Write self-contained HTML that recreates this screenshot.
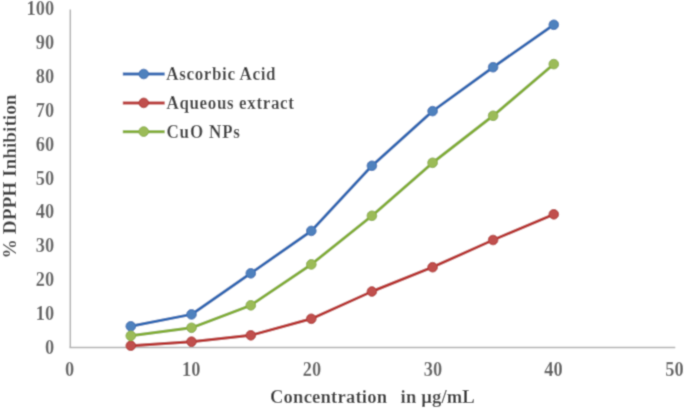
<!DOCTYPE html>
<html><head><meta charset="utf-8">
<style>
html,body{margin:0;padding:0;background:#fff;width:685px;height:409px;overflow:hidden;}
svg{display:block;}
text{font-family:"Liberation Serif",serif;font-weight:bold;fill:#404040;}
.tk text{fill:#626262;}
</style></head>
<body>
<svg width="685" height="409" viewBox="0 0 685 409">
<defs><filter id="bl" x="0" y="0" width="685" height="409" filterUnits="userSpaceOnUse"><feConvolveMatrix order="3" kernelMatrix="0.0324 0.1152 0.0324 0.1152 0.4096 0.1152 0.0324 0.1152 0.0324" edgeMode="duplicate"/></filter></defs>
<g filter="url(#bl)">
<rect width="685" height="409" fill="#fff"/>
<!-- axes -->
<line x1="70.3" y1="9.4" x2="70.3" y2="347.5" stroke="#b0b0b0" stroke-width="1.5"/>
<line x1="69.5" y1="347.5" x2="675.3" y2="347.5" stroke="#b0b0b0" stroke-width="1.5"/>
<!-- y tick labels -->
<g class="tk" font-size="20" text-anchor="end">
<text transform="translate(54.2,15) scale(0.92,1)">100</text>
<text transform="translate(54.2,49) scale(0.92,1)">90</text>
<text transform="translate(54.2,83) scale(0.92,1)">80</text>
<text transform="translate(54.2,116.5) scale(0.92,1)">70</text>
<text transform="translate(54.2,150.5) scale(0.92,1)">60</text>
<text transform="translate(54.2,184.5) scale(0.92,1)">50</text>
<text transform="translate(54.2,218) scale(0.92,1)">40</text>
<text transform="translate(54.2,252) scale(0.92,1)">30</text>
<text transform="translate(54.2,286) scale(0.92,1)">20</text>
<text transform="translate(54.2,319.5) scale(0.92,1)">10</text>
<text transform="translate(54.2,353.5) scale(0.92,1)">0</text>
</g>
<!-- x tick labels -->
<g class="tk" font-size="20" text-anchor="middle">
<text transform="translate(69.7,375.7) scale(0.92,1)">0</text>
<text transform="translate(191.3,375.7) scale(0.92,1)">10</text>
<text transform="translate(311.9,375.7) scale(0.92,1)">20</text>
<text transform="translate(432.9,375.7) scale(0.92,1)">30</text>
<text transform="translate(553.4,375.7) scale(0.92,1)">40</text>
<text transform="translate(674.4,375.7) scale(0.92,1)">50</text>
</g>
<!-- axis titles -->
<text transform="translate(270,402.5) scale(0.94,1)" font-size="19.8" textLength="124.5" lengthAdjust="spacing">Concentration</text>
<text transform="translate(400.6,402.5) scale(0.94,1)" font-size="19.8" textLength="78.9" lengthAdjust="spacing">in µg/mL</text>
<text transform="translate(15.9,258.4) rotate(-90)" font-size="19.3">% DPPH Inhibition</text>
<!-- series -->
<g transform="translate(0,0.3)">
<g fill="none" stroke-width="3" stroke-linejoin="round" stroke-linecap="round">
<polyline stroke="#2f68b2" points="130.8,326 191.5,314.1 250.8,273 311.3,230.6 371.9,165.5 432.6,110.8 493.1,66.9 553.8,24.5"/>
<polyline stroke="#b83431" points="130.8,345.4 191.5,341.4 250.8,335 311.3,318.5 371.9,291.2 432.6,266.9 493.1,239.7 553.8,214"/>
<polyline stroke="#82ad35" points="130.8,335.5 191.5,327.5 250.8,305 311.3,264.1 371.9,215.5 432.6,162.5 493.1,115.5 553.8,63.8"/>
</g>
<g fill="#4f81bd" stroke="#3f74b9" stroke-width="1">
<circle cx="130.8" cy="326" r="4.85"/><circle cx="191.5" cy="314.1" r="4.85"/><circle cx="250.8" cy="273" r="4.85"/><circle cx="311.3" cy="230.6" r="4.85"/><circle cx="371.9" cy="165.5" r="4.85"/><circle cx="432.6" cy="110.8" r="4.85"/><circle cx="493.1" cy="66.9" r="4.85"/><circle cx="553.8" cy="24.5" r="4.85"/>
</g>
<g fill="#c0504d" stroke="#b53b38" stroke-width="1">
<circle cx="130.8" cy="345.4" r="4.85"/><circle cx="191.5" cy="341.4" r="4.85"/><circle cx="250.8" cy="335" r="4.85"/><circle cx="311.3" cy="318.5" r="4.85"/><circle cx="371.9" cy="291.2" r="4.85"/><circle cx="432.6" cy="266.9" r="4.85"/><circle cx="493.1" cy="239.7" r="4.85"/><circle cx="553.8" cy="214" r="4.85"/>
</g>
<g fill="#9bbb59" stroke="#8bb044" stroke-width="1">
<circle cx="130.8" cy="335.5" r="4.85"/><circle cx="191.5" cy="327.5" r="4.85"/><circle cx="250.8" cy="305" r="4.85"/><circle cx="311.3" cy="264.1" r="4.85"/><circle cx="371.9" cy="215.5" r="4.85"/><circle cx="432.6" cy="162.5" r="4.85"/><circle cx="493.1" cy="115.5" r="4.85"/><circle cx="553.8" cy="63.8" r="4.85"/>
</g>
</g>
<!-- legend -->
<g stroke-width="3" stroke-linecap="butt">
<line x1="122.8" y1="74" x2="164.7" y2="74" stroke="#2f68b2"/>
<line x1="122.8" y1="102.9" x2="164.7" y2="102.9" stroke="#b83431"/>
<line x1="122.8" y1="131.8" x2="164.7" y2="131.8" stroke="#82ad35"/>
</g>
<circle cx="143.7" cy="74" r="4.85" fill="#4f81bd" stroke="#3f74b9"/>
<circle cx="143.7" cy="102.9" r="4.85" fill="#c0504d" stroke="#b53b38"/>
<circle cx="143.7" cy="131.6" r="4.85" fill="#9bbb59" stroke="#8bb044"/>
<g font-size="19.3">
<text transform="translate(166.3,80.2) scale(0.88,1)" textLength="124.1" lengthAdjust="spacing">Ascorbic Acid</text>
<text transform="translate(166.5,109) scale(0.88,1)" textLength="144.7" lengthAdjust="spacing">Aqueous extract</text>
<text transform="translate(166.5,137.5) scale(0.88,1)" textLength="83.5" lengthAdjust="spacing">CuO NPs</text>
</g>
</g>
</svg>
</body></html>
